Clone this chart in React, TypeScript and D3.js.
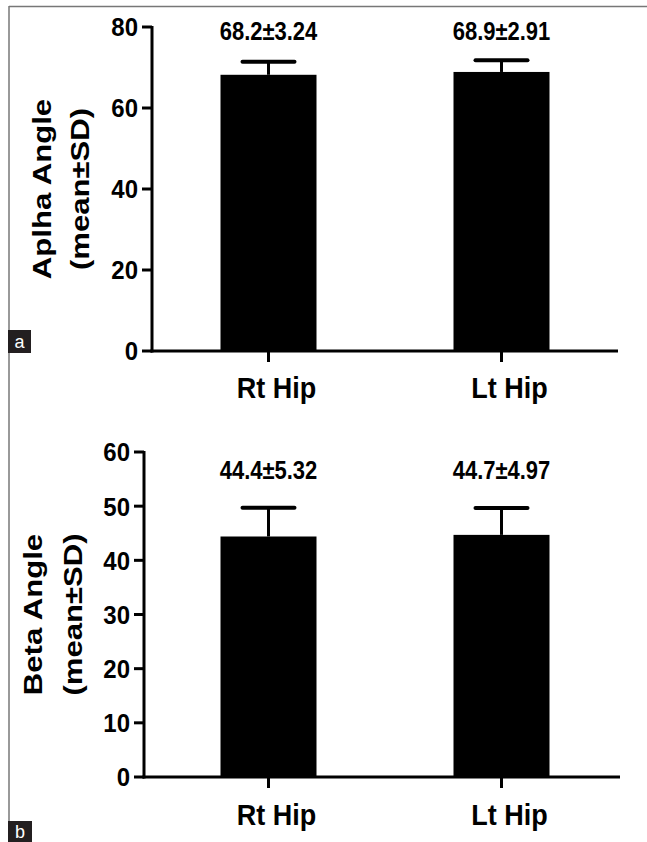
import React from "react";
import * as d3 from "d3";

const categories = ["Rt Hip", "Lt Hip"];
const alphaMeans = [68.2, 68.9];
const alphaSD = [3.24, 2.91];
const betaMeans = [44.4, 44.7];
const betaSD = [5.32, 4.97];
const alphaTicks = [0, 20, 40, 60, 80];
const betaTicks = [0, 10, 20, 30, 40, 50, 60];

const FONT = "'Liberation Sans', Arial, Helvetica, sans-serif";

type PanelProps = {
  means: number[];
  sds: number[];
  ticks: number[];
  yMax: number;
  y0: number;
  y1: number;
  axisX: number;
  axisEnd: number;
  title: string;
  titleX: number;
  subX: number;
  labelY: number;
  catY: number;
};

function Panel(p: PanelProps) {
  const y = d3.scaleLinear().domain([0, p.yMax]).range([p.y0, p.y1]);
  const x = d3.scalePoint<string>().domain(categories).range([152, 618]).padding(0.5);
  const barW = 96;
  const capW = 52;
  const midY = (p.y0 + p.y1) / 2;
  return (
    <g fontFamily={FONT} fontWeight="bold" fill="#000">
      {categories.map((c, i) => {
        const cx = x(c)!;
        const top = y(p.means[i]);
        const eTop = y(p.means[i] + p.sds[i]);
        return (
          <g key={c}>
            <rect x={cx - barW / 2} y={top} width={barW} height={p.y0 - top} fill="#000" />
            <line x1={cx} x2={cx} y1={top} y2={eTop} stroke="#000" strokeWidth={3} />
            <line x1={cx - capW / 2} x2={cx + capW / 2} y1={eTop} y2={eTop} stroke="#000" strokeWidth={4} strokeLinecap="round" />
            <text transform={`translate(${cx},${p.labelY}) scale(1,1.15)`} textAnchor="middle" fontSize={22}>
              {p.means[i].toFixed(1)}±{p.sds[i].toFixed(2)}
            </text>
            <line x1={cx} x2={cx} y1={p.y0} y2={p.y0 + 11} stroke="#000" strokeWidth={3} />
            <text transform={`translate(${cx + 8},${p.catY}) scale(1,1.08)`} textAnchor="middle" fontSize={27}>
              {c}
            </text>
          </g>
        );
      })}
      <line x1={p.axisX} x2={p.axisX} y1={y(p.yMax) - 1} y2={p.y0 + 1.5} stroke="#000" strokeWidth={3} />
      <line x1={p.axisX - 1.5} x2={p.axisEnd} y1={p.y0} y2={p.y0} stroke="#000" strokeWidth={3} />
      {p.ticks.map((t) => (
        <g key={t}>
          <line x1={p.axisX - 10} x2={p.axisX} y1={y(t)} y2={y(t)} stroke="#000" strokeWidth={3} />
          <text transform={`translate(${p.axisX - 14},${y(t)}) scale(1,1.08)`} dy="0.36em" textAnchor="end" fontSize={24}>
            {t}
          </text>
        </g>
      ))}
      <text transform={`translate(${p.titleX},${midY}) scale(1,1.22) rotate(-90)`} textAnchor="middle" fontSize={25.5}>
        {p.title}
      </text>
      <text transform={`translate(${p.subX},${midY}) scale(1,1.22) rotate(-90)`} textAnchor="middle" fontSize={25.5}>
        (mean±SD)
      </text>
    </g>
  );
}

export default function App() {
  return (
    <svg
      width={647}
      height={842}
      style={{ position: "absolute", left: 0, top: 0, background: "#fff" }}
    >
      <rect x={0} y={0} width={647} height={842} fill="#fff" />
      <line x1={9} x2={647} y1={6.5} y2={6.5} stroke="#777" strokeWidth={1.5} />
      <line x1={9} x2={9} y1={6} y2={842} stroke="#777" strokeWidth={1.5} />
      <Panel
        means={alphaMeans}
        sds={alphaSD}
        ticks={alphaTicks}
        yMax={80}
        y0={351}
        y1={27}
        axisX={152}
        axisEnd={618}
        title="Aplha Angle"
        titleX={51}
        subX={89}
        labelY={40}
        catY={398}
      />
      <Panel
        means={betaMeans}
        sds={betaSD}
        ticks={betaTicks}
        yMax={60}
        y0={777}
        y1={452}
        axisX={144}
        axisEnd={620}
        title="Beta Angle"
        titleX={42}
        subX={82}
        labelY={479}
        catY={825}
      />
      <rect x={8} y={330} width={23} height={23} fill="#231f20" />
      <text x={19.5} y={348} textAnchor="middle" fontSize={18} fill="#fff" fontFamily={FONT}>
        a
      </text>
      <rect x={8} y={821} width={24} height={21} fill="#231f20" />
      <text x={20} y={838} textAnchor="middle" fontSize={18} fill="#fff" fontFamily={FONT}>
        b
      </text>
    </svg>
  );
}
